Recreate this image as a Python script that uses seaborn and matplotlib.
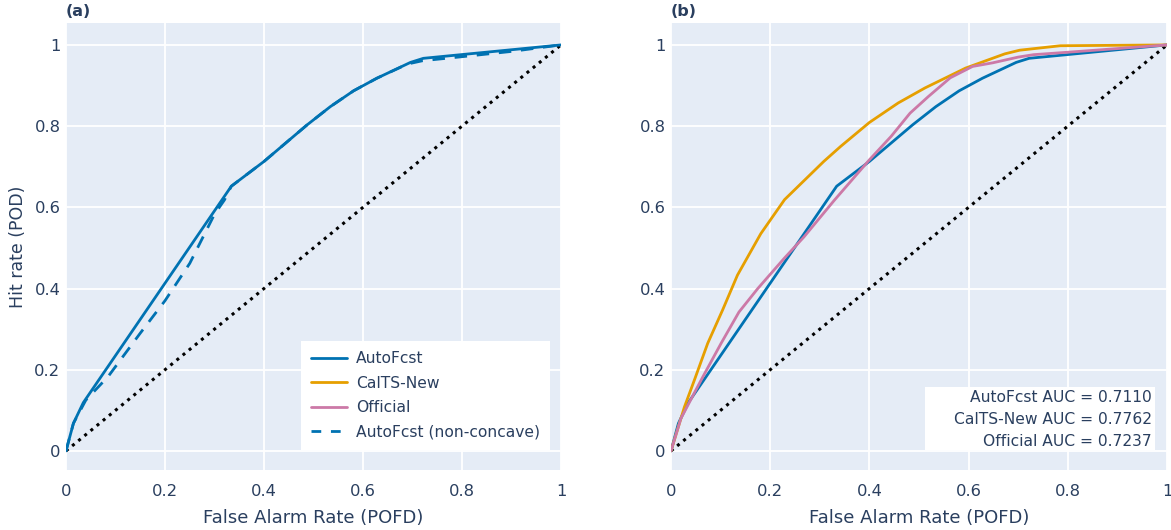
import numpy as np
import pandas as pd
import matplotlib
matplotlib.use("Agg")
import matplotlib.pyplot as plt
from matplotlib.lines import Line2D
from matplotlib.patches import Rectangle
import seaborn as sns

# ROC curves (POFD, POD)
autofcst_pofd = [0.0, 0.015, 0.035, 0.334, 0.400, 0.487, 0.534, 0.581, 0.628, 0.696, 0.722, 1.0]
autofcst_pod = [0.0, 0.068, 0.119, 0.652, 0.713, 0.803, 0.848, 0.887, 0.918, 0.957, 0.967, 1.0]

autofcst_nc_pofd = [0.0, 0.015, 0.040, 0.085, 0.150, 0.200, 0.250, 0.300, 0.320, 0.334, 0.400,
                    0.487, 0.534, 0.581, 0.628, 0.690, 0.720, 0.800, 0.900, 1.0]
autofcst_nc_pod = [0.0, 0.068, 0.125, 0.183, 0.290, 0.370, 0.462, 0.583, 0.618, 0.652, 0.713,
                   0.803, 0.848, 0.887, 0.918, 0.953, 0.961, 0.971, 0.984, 1.0]

calts_pofd = [0.0, 0.027, 0.047, 0.074, 0.104, 0.134, 0.181, 0.229, 0.308, 0.342, 0.400,
              0.458, 0.512, 0.594, 0.673, 0.703, 0.785, 1.0]
calts_pod = [0.0, 0.108, 0.174, 0.265, 0.347, 0.433, 0.535, 0.619, 0.713, 0.750, 0.809,
             0.857, 0.894, 0.943, 0.978, 0.987, 0.998, 1.0]

official_pofd = [0.0, 0.020, 0.064, 0.101, 0.137, 0.175, 0.228, 0.268, 0.329, 0.400, 0.444,
                 0.482, 0.519, 0.563, 0.608, 0.649, 0.700, 0.731, 0.800, 1.0]
official_pod = [0.0, 0.080, 0.182, 0.265, 0.342, 0.400, 0.474, 0.527, 0.617, 0.717, 0.775,
                0.832, 0.873, 0.919, 0.947, 0.956, 0.970, 0.976, 0.982, 1.0]

series_names = ["AutoFcst", "CalTS-New", "Official"]
auc_values = [0.7110, 0.7762, 0.7237]
tick_values = [0, 0.2, 0.4, 0.6, 0.8, 1]
tick_labels = ["0", "0.2", "0.4", "0.6", "0.8", "1"]

colors = {"AutoFcst": "#0072B2", "CalTS-New": "#E69F00", "Official": "#CC79A7"}
text_color = "#2a3f5f"
bg_color = "#E5ECF6"

sns.set_theme(style="darkgrid", rc={
    "axes.facecolor": bg_color,
    "grid.color": "white",
    "grid.linewidth": 1.3,
    "axes.edgecolor": bg_color,
})
plt.rcParams["font.family"] = ["DejaVu Sans"]

fig = plt.figure(figsize=(11.71, 5.30), dpi=100)
ax_a = fig.add_axes([66 / 1171, 60 / 530, 495 / 1171, 447 / 530])
ax_b = fig.add_axes([671 / 1171, 60 / 530, 496 / 1171, 447 / 530])

df_auto = pd.DataFrame({"POFD": autofcst_pofd, "POD": autofcst_pod})
df_auto_nc = pd.DataFrame({"POFD": autofcst_nc_pofd, "POD": autofcst_nc_pod})
df_calts = pd.DataFrame({"POFD": calts_pofd, "POD": calts_pod})
df_off = pd.DataFrame({"POFD": official_pofd, "POD": official_pod})
diag = pd.DataFrame({"POFD": [0, 1], "POD": [0, 1]})

lw = 2.0
dotted = (0, (1, 1.6))

# Panel (a): concave hull vs raw curve
sns.lineplot(data=df_auto_nc, x="POFD", y="POD", ax=ax_a, sort=False, estimator=None,
             color=colors["AutoFcst"], lw=lw, linestyle=(0, (4.5, 3.5)), zorder=3)
sns.lineplot(data=df_auto, x="POFD", y="POD", ax=ax_a, sort=False, estimator=None,
             color=colors["AutoFcst"], lw=lw, zorder=4)
sns.lineplot(data=diag, x="POFD", y="POD", ax=ax_a, sort=False, estimator=None,
             color="black", lw=2.2, linestyle=dotted, zorder=2)

handles = [
    Line2D([], [], color=colors["AutoFcst"], lw=lw),
    Line2D([], [], color=colors["CalTS-New"], lw=lw),
    Line2D([], [], color=colors["Official"], lw=lw),
    Line2D([], [], color=colors["AutoFcst"], lw=lw, linestyle=(0, (3.5, 3.5))),
]
leg = ax_a.legend(handles, ["AutoFcst", "CalTS-New", "Official", "AutoFcst (non-concave)"],
                  loc="lower right", bbox_to_anchor=(484 / 495, 20 / 447), borderaxespad=0,
                  frameon=True, fancybox=False, framealpha=1.0, edgecolor="white",
                  facecolor="white", fontsize=11.2, handlelength=2.3, labelspacing=0.62,
                  borderpad=0.65, handletextpad=0.6, labelcolor=text_color)
leg.get_frame().set_linewidth(0)

# Panel (b): three forecasts
for df, name in [(df_auto, "AutoFcst"), (df_calts, "CalTS-New"), (df_off, "Official")]:
    sns.lineplot(data=df, x="POFD", y="POD", ax=ax_b, sort=False, estimator=None,
                 color=colors[name], lw=lw, zorder=3)
sns.lineplot(data=diag, x="POFD", y="POD", ax=ax_b, sort=False, estimator=None,
             color="black", lw=2.2, linestyle=dotted, zorder=2)

# AUC summary box
ax_b.add_patch(Rectangle((254 / 496, 20 / 447), 230 / 496, 63 / 447, transform=ax_b.transAxes,
                         facecolor="white", edgecolor="none", zorder=5))
for i, (n, v) in enumerate(zip(series_names, auc_values)):
    y_px = 398 + 21.5 * i
    ax_b.text(481 / 496, (470 - y_px) / 447, f"{n} AUC = {v:.4f}", transform=ax_b.transAxes,
              ha="right", va="center", fontsize=11.2, color=text_color, zorder=6)

for ax, tag in [(ax_a, "(a)"), (ax_b, "(b)")]:
    ax.set_xlim(0, 1)
    ax.set_ylim(-0.047, 1.054)
    ax.set_xticks(tick_values)
    ax.set_xticklabels(tick_labels)
    ax.set_yticks(tick_values)
    ax.set_yticklabels(tick_labels)
    ax.tick_params(axis="x", length=0, labelsize=11.8, colors=text_color, pad=10)
    ax.tick_params(axis="y", length=0, labelsize=11.8, colors=text_color, pad=4)
    for s in ax.spines.values():
        s.set_visible(False)
    ax.set_xlabel("False Alarm Rate (POFD)", fontsize=13, color=text_color, labelpad=7)
    ax.set_ylabel("")
    ax.text(0.0, 1 + 11 / 447, tag, transform=ax.transAxes, ha="left", va="center",
            fontsize=11.5, fontweight="bold", color=text_color)

ax_a.set_ylabel("Hit rate (POD)", fontsize=12.5, color=text_color, labelpad=5)

fig.savefig("out.png", dpi=100, facecolor="white")
